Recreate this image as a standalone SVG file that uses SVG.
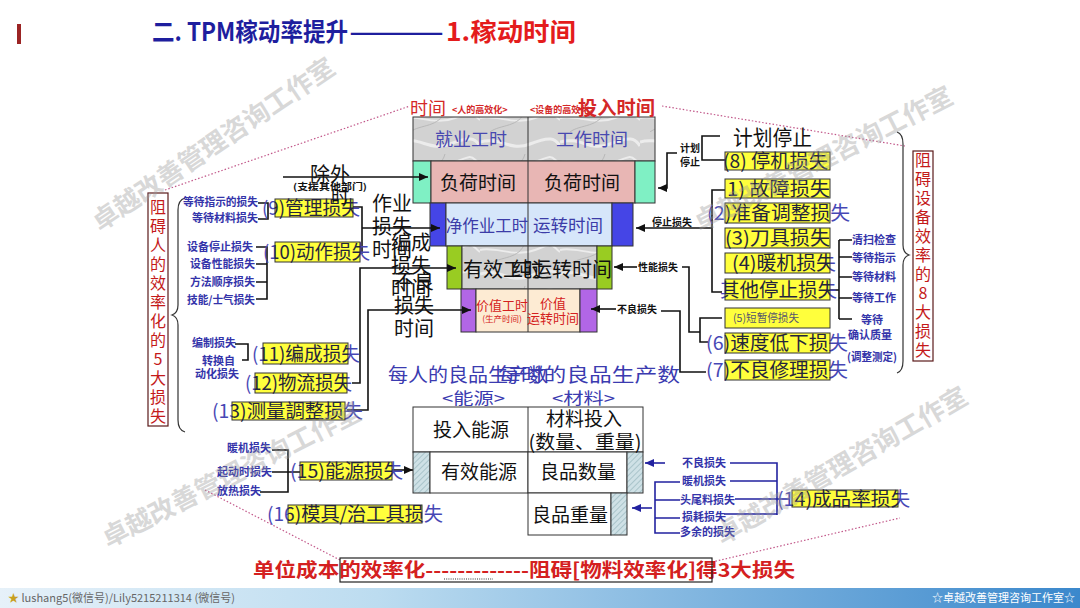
<svg xmlns="http://www.w3.org/2000/svg" width="1080" height="608" viewBox="0 0 1080 608">
<defs>
<style>
text{font-family:"Noto Sans CJK SC","Liberation Sans",sans-serif}
.yt{font-size:19px}
.yb{fill:#ffff3c;stroke:#333;stroke-width:1}
.sm{font-size:11px;fill:#3434aa;font-weight:bold}
.sk{font-size:10px;fill:#111;font-weight:bold}
.ln{fill:none;stroke:#111;stroke-width:1.6}
.bl{fill:none;stroke:#2222a0;stroke-width:1.6}
.big{font-size:20px;fill:#111}
.cell{stroke:#333;stroke-width:1}
.red{fill:#d42020}
.dot{fill:none;stroke:#c2588a;stroke-width:1.2;stroke-dasharray:1.5 2}
.wm{font-size:26px;fill:#9a9a9a;opacity:.38;font-weight:bold}
.vt{font-size:16px;fill:#c41a1a;text-anchor:middle}
.tb{font-size:19px;fill:#111}
</style>
<marker id="ah" markerWidth="10" markerHeight="10" refX="9" refY="5" orient="auto" markerUnits="userSpaceOnUse"><path d="M0,1 L9,5 L0,9 z" fill="#111"/></marker>
<marker id="ahb" markerWidth="10" markerHeight="10" refX="9" refY="5" orient="auto" markerUnits="userSpaceOnUse"><path d="M0,1 L9,5 L0,9 z" fill="#2222a0"/></marker>
<linearGradient id="gb"><stop offset="0" stop-color="#4646b4"/><stop offset=".012" stop-color="#24243c"/><stop offset=".988" stop-color="#24243c"/><stop offset="1" stop-color="#4646b4"/></linearGradient>
<linearGradient id="g9" href="#gb" gradientUnits="userSpaceOnUse" x1="274" x2="354" y1="0" y2="0"/>
<linearGradient id="g10" href="#gb" gradientUnits="userSpaceOnUse" x1="274" x2="361" y1="0" y2="0"/>
<linearGradient id="g11" href="#gb" gradientUnits="userSpaceOnUse" x1="262" x2="349" y1="0" y2="0"/>
<linearGradient id="g12" href="#gb" gradientUnits="userSpaceOnUse" x1="254" x2="348" y1="0" y2="0"/>
<linearGradient id="g13" href="#gb" gradientUnits="userSpaceOnUse" x1="231" x2="346" y1="0" y2="0"/>
<linearGradient id="g15" href="#gb" gradientUnits="userSpaceOnUse" x1="299" x2="393" y1="0" y2="0"/>
<linearGradient id="g16" href="#gb" gradientUnits="userSpaceOnUse" x1="287" x2="423" y1="0" y2="0"/>
<linearGradient id="gR" href="#gb" gradientUnits="userSpaceOnUse" x1="724" x2="831" y1="0" y2="0"/>
<linearGradient id="g14" href="#gb" gradientUnits="userSpaceOnUse" x1="791" x2="899" y1="0" y2="0"/>
<pattern id="marble" width="80" height="44" patternUnits="userSpaceOnUse">
<rect width="80" height="44" fill="#d2d2d2"/>
<path d="M0,10 C20,4 30,20 50,12 S75,6 80,14" stroke="#f2f2f2" stroke-width="3" fill="none" opacity=".8"/>
<path d="M0,30 C15,26 35,38 55,30 S70,24 80,32" stroke="#ececec" stroke-width="2" fill="none"/>
<path d="M10,44 C20,36 40,40 45,22" stroke="#b8b8b8" stroke-width="1" fill="none"/>
</pattern>
<pattern id="hatch" width="4" height="4" patternUnits="userSpaceOnUse" patternTransform="rotate(45)">
<rect width="4" height="4" fill="#cfe1e6"/>
<line x1="0" y1="0" x2="0" y2="4" stroke="#8fb0b8" stroke-width="1.2"/>
</pattern>
<linearGradient id="bar" x1="0" x2="1" y1="0" y2="0">
<stop offset="0" stop-color="#e6f1f9"/><stop offset="0.35" stop-color="#bcdcf0"/><stop offset="1" stop-color="#3b88cc"/>
</linearGradient>
</defs>
<rect width="1080" height="608" fill="#fff"/>

<g id="title">
<rect x="17" y="24" width="4" height="20" fill="#9b2424"/>
<text y="41" font-size="25" font-weight="bold" fill="#1e1e9e"><tspan x="152" textLength="196" lengthAdjust="spacingAndGlyphs">二. TPM稼动率提升</tspan><tspan x="348" textLength="97" lengthAdjust="spacingAndGlyphs">——</tspan><tspan x="446" fill="#e41c1c" textLength="130" lengthAdjust="spacingAndGlyphs">1.稼动时间</tspan></text>
</g>

<g id="guides">
<path class="dot" d="M165,190 L410,106"/>
<path class="dot" d="M662,106 L905,146"/>
<path class="dot" d="M205,490 L340,560"/>
<path class="dot" d="M712,562 L900,518"/>
</g>

<g id="stack">
<rect x="413" y="117" width="242" height="44" fill="url(#marble)" class="cell"/>
<rect x="413" y="161" width="18" height="42" fill="#7ff0c4" class="cell"/>
<rect x="431" y="161" width="204" height="42" fill="#e8b6b4" class="cell"/>
<rect x="635" y="161" width="20" height="42" fill="#7ff0c4" class="cell"/>
<rect x="430" y="203" width="16" height="43" fill="#4545e6" class="cell"/>
<rect x="446" y="203" width="166" height="43" fill="#d6e6fa" class="cell"/>
<rect x="612" y="203" width="21" height="43" fill="#4545e6" class="cell"/>
<rect x="447" y="246" width="15" height="43" fill="#99cc22" class="cell"/>
<rect x="462" y="246" width="135" height="43" fill="url(#marble)" class="cell"/>
<rect x="597" y="246" width="15" height="43" fill="#99cc22" class="cell"/>
<rect x="461" y="289" width="15" height="43" fill="#b266e6" class="cell"/>
<rect x="476" y="289" width="104" height="43" fill="#fdebd3" class="cell"/>
<rect x="580" y="289" width="17" height="43" fill="#b266e6" class="cell"/>
<line x1="528" y1="117" x2="528" y2="332" stroke="#333" stroke-width="1"/>
<text x="471" y="146" font-size="18" fill="#4848b0" text-anchor="middle">就业工时</text>
<text x="592" y="146" font-size="18" fill="#4848b0" text-anchor="middle">工作时间</text>
<text x="478" y="190" font-size="19" fill="#111" text-anchor="middle">负荷时间</text>
<text x="582" y="190" font-size="19" fill="#111" text-anchor="middle">负荷时间</text>
<text x="487" y="232" font-size="16.5" fill="#3c3ca8" text-anchor="middle">净作业工时</text>
<text x="568" y="232" font-size="17.5" fill="#3c3ca8" text-anchor="middle">运转时间</text>
<text x="463" y="277" font-size="20" fill="#111">有效工时</text>
<text x="512" y="277" font-size="20" fill="#111">纯运转时间</text>
<text x="502" y="310" font-size="13" class="red" text-anchor="middle">价值工时</text>
<text x="502" y="322" font-size="8.5" class="red" text-anchor="middle">(生产时间)</text>
<text x="553" y="308" font-size="13" class="red" text-anchor="middle">价值</text>
<text x="553" y="323" font-size="13" class="red" text-anchor="middle">运转时间</text>
<text x="410" y="115" font-size="18" fill="#d42828">时间</text>
<text x="452" y="113" font-size="9" font-weight="bold" fill="#d42828">&lt;人的高效化&gt;</text>
<text x="530" y="113" font-size="9" font-weight="bold" fill="#d42828">&lt;设备的高效化&gt;</text>
<text x="578" y="115" font-size="19" font-weight="bold" fill="#d42828" textLength="77" lengthAdjust="spacingAndGlyphs">投入时间</text>
</g>

<g id="connectors">
<path class="ln" d="M283,177 H428" marker-end="url(#ah)"/>
<path class="ln" d="M258,203 H268 V219 H258"/>
<path class="ln" d="M256,247 H267 V299 H256 M256,264 H267 M256,282 H267"/>
<path class="ln" d="M353,207 H362 V253 H358"/>
<path class="ln" d="M362,228 H440" marker-end="url(#ah)"/>
<path class="ln" d="M235,344 H248 V360 H242"/>
<path class="ln" d="M352,383 H360 V268 H456" marker-end="url(#ah)"/>
<path class="ln" d="M347,410 H368 V310 H471" marker-end="url(#ah)"/>
<path class="ln" d="M677,153 H667 V188 H658" marker-end="url(#ah)"/>
<path class="ln" d="M720,136 H702 V160 H727"/>
<path class="ln" d="M727,190 H712 V292 H722"/>
<path class="ln" d="M712,228 H636" marker-end="url(#ah)"/>
<path class="ln" d="M637,267 H614" marker-end="url(#ah)"/>
<path class="ln" d="M682,267 H689 V332 H700 M722,318 H700 V342 H708"/>
<path class="ln" d="M616,309 H591" marker-end="url(#ah)"/>
<path class="ln" d="M661,311 H680 V372 H706"/>
<path class="ln" d="M830,290 H839 M839,240 V319 M839,240 H852 M839,257 H852 M839,277 H852 M839,298 H852 M839,319 H852"/>
<path class="ln" d="M272,450 H288 V492 H260 M272,472 H300"/>
<path class="ln" d="M390,470 H413" marker-end="url(#ah)"/>
<path class="bl" d="M665,463 H645" marker-end="url(#ahb)"/>
<path class="bl" d="M652,508 H632" marker-end="url(#ahb)"/>
<path class="bl" d="M730,463 H777 V515 M730,481 H777 M735,499 H790 M724,514 H777"/>
<path class="bl" d="M680,482 H655 V533 H680 M655,500 H680 M655,518 H680"/>
<path fill="none" stroke="#333" stroke-width="1.2" d="M185,198 Q178,200 178,210 V305 Q178,313 172,315 Q178,317 178,325 V420 Q178,430 185,432"/>
<path fill="none" stroke="#333" stroke-width="1.2" d="M897,132 Q903,134 903,144 V245 Q903,253 909,255 Q903,257 903,265 V361 Q903,371 897,373"/>
</g>

<g id="people-losses">
<rect x="148" y="193" width="20" height="233" fill="#fff" stroke="#5a1a1a" stroke-width="1.2"/>
<text class="vt"><tspan x="158" y="213">阻</tspan><tspan x="158" dy="19">碍</tspan><tspan x="158" dy="19">人</tspan><tspan x="158" dy="19">的</tspan><tspan x="158" dy="19">效</tspan><tspan x="158" dy="19">率</tspan><tspan x="158" dy="19">化</tspan><tspan x="158" dy="19">的</tspan><tspan x="158" dy="19">5</tspan><tspan x="158" dy="19">大</tspan><tspan x="158" dy="19">损</tspan><tspan x="158" dy="19">失</tspan></text>
</g>

<g id="small-left">
<text class="sm" x="183" y="206" textLength="75" lengthAdjust="spacingAndGlyphs">等待指示的损失</text>
<text class="sm" x="192" y="222" textLength="66" lengthAdjust="spacingAndGlyphs">等待材料损失</text>
<text class="sm" x="187" y="251" textLength="66" lengthAdjust="spacingAndGlyphs">设备停止损失</text>
<text class="sm" x="190" y="268" textLength="65" lengthAdjust="spacingAndGlyphs">设备性能损失</text>
<text class="sm" x="190" y="286" textLength="65" lengthAdjust="spacingAndGlyphs">方法顺序损失</text>
<text class="sm" x="187" y="304" textLength="68" lengthAdjust="spacingAndGlyphs">技能/士气损失</text>
<text class="sm" x="192" y="347">编制损失</text>
<text class="sm" x="202" y="365">转换自</text>
<text class="sm" x="195" y="378">动化损失</text>
<text class="sm" x="227" y="452">暖机损失</text>
<text class="sm" x="217" y="476">起动时损失</text>
<text class="sm" x="217" y="495">放热损失</text>
</g>

<g id="loss-9"><rect class="yb" x="275" y="199" width="78" height="18"/><text class="yt" fill="url(#g9)" x="262" y="215" textLength="98" lengthAdjust="spacingAndGlyphs">(9)管理损失</text></g>
<g id="loss-10"><rect class="yb" x="275" y="242" width="85" height="20"/><text class="yt" fill="url(#g10)" x="263" y="259" textLength="107" lengthAdjust="spacingAndGlyphs">(10)动作损失</text></g>
<g id="loss-11"><rect class="yb" x="263" y="343" width="85" height="21"/><text class="yt" fill="url(#g11)" x="252" y="361" textLength="108" lengthAdjust="spacingAndGlyphs">(11)编成损失</text></g>
<g id="loss-12"><rect class="yb" x="255" y="373" width="92" height="20"/><text class="yt" fill="url(#g12)" x="245" y="390" textLength="107" lengthAdjust="spacingAndGlyphs">(12)物流损失</text></g>
<g id="loss-13"><rect class="yb" x="232" y="402" width="113" height="18"/><text class="yt" fill="url(#g13)" x="212" y="418" textLength="151" lengthAdjust="spacingAndGlyphs">(13)测量調整损失</text></g>
<g id="loss-15"><rect class="yb" x="300" y="462" width="92" height="18"/><text class="yt" fill="url(#g15)" x="290" y="478" textLength="113" lengthAdjust="spacingAndGlyphs">(15)能源损失</text></g>
<g id="loss-16"><rect class="yb" x="288" y="505" width="134" height="18"/><text class="yt" fill="url(#g16)" x="267" y="521" textLength="176" lengthAdjust="spacingAndGlyphs">(16)模具/治工具损失</text></g>

<g id="loss-time-labels">
<text class="big" x="310" y="182">除外</text>
<text x="293" y="190" font-size="9" font-weight="bold" fill="#111" textLength="74" lengthAdjust="spacingAndGlyphs">(支援其他部门)</text>
<text x="331" y="203" font-size="18" fill="#111">时</text>
<text class="big" x="372" y="211">作业</text>
<text class="big" x="372" y="234">损失</text>
<text class="big" x="372" y="257">时间</text>
<text class="big" x="391" y="250">编成</text>
<text class="big" x="391" y="273">损失</text>
<text class="big" x="391" y="296">时间</text>
<text class="big" x="394" y="289">不良</text>
<text class="big" x="394" y="313">损失</text>
<text class="big" x="394" y="336">时间</text>
</g>

<g id="equip-labels">
<text class="sk" x="680" y="152">计划</text>
<text class="sk" x="680" y="166">停止</text>
<text x="733" y="145" font-size="21" fill="#111" textLength="79" lengthAdjust="spacingAndGlyphs">计划停止</text>
<text class="sk" x="652" y="226">停止损失</text>
<text class="sk" x="638" y="271">性能损失</text>
<text class="sk" x="617" y="313">不良损失</text>
<text class="sm" x="852" y="244">清扫检查</text>
<text class="sm" x="852" y="262">等待指示</text>
<text class="sm" x="852" y="281">等待材料</text>
<text class="sm" x="852" y="302">等待工作</text>
<text class="sm" x="861" y="324">等待</text>
<text class="sm" x="848" y="339">确认质量</text>
<text class="sm" x="847" y="361" textLength="50" lengthAdjust="spacingAndGlyphs">(调整测定)</text>
</g>

<g id="loss-8"><rect class="yb" x="725" y="152" width="105" height="18"/><text class="yt" fill="url(#gR)" x="723" y="168" textLength="105" lengthAdjust="spacingAndGlyphs">(8) 停机损失</text></g>
<g id="loss-1"><rect class="yb" x="725" y="179" width="105" height="19"/><text class="yt" fill="url(#gR)" x="727" y="196" textLength="103" lengthAdjust="spacingAndGlyphs">1) 故障损失</text></g>
<g id="loss-2"><rect class="yb" x="725" y="203" width="105" height="20"/><text class="yt" fill="url(#gR)" x="707" y="220" textLength="143" lengthAdjust="spacingAndGlyphs">(2)准备调整损失</text></g>
<g id="loss-3"><rect class="yb" x="725" y="228" width="105" height="20"/><text class="yt" fill="url(#gR)" x="725" y="245" textLength="105" lengthAdjust="spacingAndGlyphs">(3)刀具损失</text></g>
<g id="loss-4"><rect class="yb" x="725" y="253" width="105" height="20"/><text class="yt" fill="url(#gR)" x="732" y="270" textLength="104" lengthAdjust="spacingAndGlyphs">(4)暖机损失</text></g>
<g id="loss-other"><rect class="yb" x="725" y="279" width="105" height="21"/><text class="yt" fill="url(#gR)" x="720" y="297" textLength="117" lengthAdjust="spacingAndGlyphs">其他停止损失</text></g>
<g id="loss-5"><rect class="yb" x="725" y="308" width="105" height="20"/><text x="733" y="322" font-size="11" fill="#55556e" textLength="66" lengthAdjust="spacingAndGlyphs">(5)短暂停损失</text></g>
<g id="loss-6"><rect class="yb" x="725" y="333" width="105" height="20"/><text class="yt" fill="url(#gR)" x="706" y="350" textLength="142" lengthAdjust="spacingAndGlyphs">(6)速度低下损失</text></g>
<g id="loss-7"><rect class="yb" x="725" y="360" width="105" height="20"/><text class="yt" fill="url(#gR)" x="706" y="377" textLength="142" lengthAdjust="spacingAndGlyphs">(7)不良修理损失</text></g>

<g id="equip-losses">
<rect x="913" y="151" width="20" height="210" fill="#fff" stroke="#5a1a1a" stroke-width="1.2"/>
<text class="vt"><tspan x="923" y="166">阻</tspan><tspan x="923" dy="19">碍</tspan><tspan x="923" dy="19">设</tspan><tspan x="923" dy="19">备</tspan><tspan x="923" dy="19">效</tspan><tspan x="923" dy="19">率</tspan><tspan x="923" dy="19">的</tspan><tspan x="923" dy="19">8</tspan><tspan x="923" dy="19">大</tspan><tspan x="923" dy="19">损</tspan><tspan x="923" dy="19">失</tspan></text>
</g>

<g id="material-table">
<text x="388" y="382" font-size="19" fill="#3b3bb0" textLength="160" lengthAdjust="spacingAndGlyphs">每人的良品生产数</text>
<text x="498" y="382" font-size="19" fill="#3b3bb0" textLength="182" lengthAdjust="spacingAndGlyphs">每时的良品生产数</text>
<text x="442" y="404" font-size="16" fill="#3b3bb0" textLength="63" lengthAdjust="spacingAndGlyphs">&lt;能源&gt;</text>
<text x="552" y="404" font-size="16" fill="#3b3bb0" textLength="63" lengthAdjust="spacingAndGlyphs">&lt;材料&gt;</text>
<rect x="413" y="407" width="230" height="45" fill="#fff" class="cell"/>
<rect x="413" y="452" width="17" height="41" fill="url(#hatch)" class="cell"/>
<rect x="430" y="452" width="98" height="41" fill="#fff" class="cell"/>
<rect x="528" y="452" width="99" height="41" fill="#fff" class="cell"/>
<rect x="627" y="452" width="16" height="41" fill="url(#hatch)" class="cell"/>
<rect x="528" y="493" width="83" height="42" fill="#fff" class="cell"/>
<rect x="611" y="493" width="16" height="42" fill="url(#hatch)" class="cell"/>
<line x1="528" y1="407" x2="528" y2="452" stroke="#333" stroke-width="1"/>
<text class="tb" x="471" y="437" text-anchor="middle">投入能源</text>
<text class="tb" x="584" y="426" text-anchor="middle">材料投入</text>
<text class="tb" x="585" y="449" text-anchor="middle" textLength="113" lengthAdjust="spacingAndGlyphs">(数量、重量)</text>
<text class="tb" x="479" y="479" text-anchor="middle">有效能源</text>
<text class="tb" x="578" y="479" text-anchor="middle">良品数量</text>
<text class="tb" x="570" y="522" text-anchor="middle">良品重量</text>
</g>

<g id="yield-losses">
<text class="sm" x="682" y="467">不良损失</text>
<text class="sm" x="682" y="485">暖机损失</text>
<text class="sm" x="680" y="504">头尾料损失</text>
<text class="sm" x="682" y="521">损耗损失</text>
<text class="sm" x="680" y="536">多余的损失</text>
</g>
<g id="loss-14"><rect class="yb" x="792" y="490" width="106" height="17"/><text class="yt" fill="url(#g14)" x="777" y="506" textLength="133" lengthAdjust="spacingAndGlyphs">(14)成品率损失</text></g>

<g id="footer-line">
<text x="253" y="577" font-size="19" font-weight="bold" class="red" textLength="542" lengthAdjust="spacingAndGlyphs">单位成本的效率化-------------阻碍[物料效率化]得3大损失</text>
<rect x="340" y="558" width="372" height="24" fill="none" stroke="#222" stroke-width="1.2"/>
<line x1="444" y1="579" x2="493" y2="579" stroke="#333" stroke-width="1" stroke-dasharray="1 1.2"/>
</g>

<g id="watermarks">
<text class="wm" transform="translate(100,232) rotate(-34)">卓越改善管理咨询工作室</text>
<text class="wm" transform="translate(700,232) rotate(-27)" font-size="27">卓越改善管理咨询工作室</text>
<text class="wm" transform="translate(108,548) rotate(-27)" font-size="27">卓越改善管理咨询工作室</text>
<text class="wm" transform="translate(722,545) rotate(-30)" font-size="27">卓越改善管理咨询工作室</text>
</g>

<g id="bottom-bar">
<rect x="0" y="588" width="1080" height="20" fill="url(#bar)"/>
<text x="8" y="602" font-size="11" fill="#666"><tspan fill="#c8a020">★</tspan> lushang5(微信号)/Lily5215211314 (微信号)</text>
<text x="1075" y="602" font-size="11" fill="#fff" text-anchor="end">☆卓越改善管理咨询工作室☆</text>
</g>
</svg>
